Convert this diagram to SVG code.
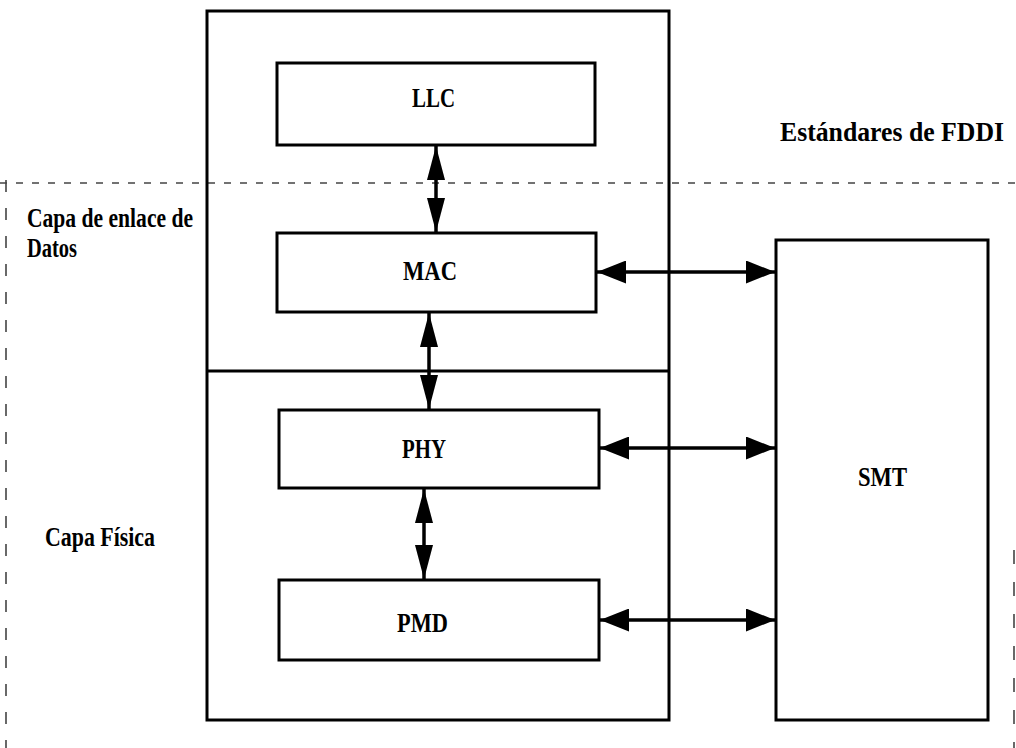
<svg xmlns="http://www.w3.org/2000/svg" width="1016" height="748" viewBox="0 0 1016 748">
  <defs>
    <style>
      .box { fill: none; stroke: #000; stroke-width: 3; }
      .lbl { font-family: "Liberation Serif", "Times New Roman", serif; font-weight: bold; fill: #000; font-size: 28px; }
      .side { font-family: "Liberation Serif", "Times New Roman", serif; font-weight: bold; fill: #000; font-size: 27px; }
      .conn { stroke: #000; stroke-width: 3.5; fill: none; }
      .dash { stroke: #444; stroke-width: 1.6; fill: none; }
    </style>
    <marker id="hh" viewBox="0 0 29 23" refX="29" refY="11.5" markerWidth="29" markerHeight="23" markerUnits="userSpaceOnUse" orient="auto-start-reverse">
      <path d="M0,0 L29,11.5 L0,23 Z" fill="#000"/>
    </marker>
    <marker id="vh" viewBox="0 0 34 18" refX="34" refY="9" markerWidth="34" markerHeight="18" markerUnits="userSpaceOnUse" orient="auto-start-reverse">
      <path d="M0,0 L34,9 L0,18 Z" fill="#000"/>
    </marker>
  </defs>
  <rect width="1016" height="748" fill="#fff"/>

  <g id="guides">
    <line class="dash" x1="0" y1="183" x2="1016" y2="183" stroke-dasharray="7 9"/>
    <line class="dash" x1="6" y1="180" x2="6" y2="748" stroke-dasharray="12 16" stroke-width="2.2"/>
    <line class="dash" x1="1014" y1="550" x2="1014" y2="748" stroke-dasharray="14 18" stroke-width="2.2"/>
  </g>

  <g id="fddi-standards">
    <rect class="box" x="207" y="11" width="462" height="709"/>
    <line class="box" x1="207" y1="371" x2="669" y2="371"/>
    <text class="side" x="780" y="141" textLength="224" lengthAdjust="spacingAndGlyphs">Estándares de FDDI</text>
  </g>

  <g id="layer-labels">
    <text class="side" x="27" y="227" textLength="166" lengthAdjust="spacingAndGlyphs">Capa de enlace de</text>
    <text class="side" x="27" y="257" textLength="50" lengthAdjust="spacingAndGlyphs">Datos</text>
    <text class="side" x="45" y="546" textLength="110" lengthAdjust="spacingAndGlyphs">Capa Física</text>
  </g>

  <g id="llc">
    <rect class="box" x="277" y="63" width="318" height="82"/>
    <text class="lbl" x="412" y="107" textLength="43" lengthAdjust="spacingAndGlyphs">LLC</text>
  </g>
  <g id="mac">
    <rect class="box" x="277" y="233" width="319" height="79"/>
    <text class="lbl" x="403" y="280" textLength="54" lengthAdjust="spacingAndGlyphs">MAC</text>
  </g>
  <g id="phy">
    <rect class="box" x="279" y="410" width="320" height="78"/>
    <text class="lbl" x="402" y="458" textLength="44" lengthAdjust="spacingAndGlyphs">PHY</text>
  </g>
  <g id="pmd">
    <rect class="box" x="279" y="580" width="320" height="80"/>
    <text class="lbl" x="397" y="632" textLength="51" lengthAdjust="spacingAndGlyphs">PMD</text>
  </g>
  <g id="smt">
    <rect class="box" x="776" y="240" width="212" height="480"/>
    <text class="lbl" x="858" y="486" textLength="49" lengthAdjust="spacingAndGlyphs">SMT</text>
  </g>

  <g id="connectors">
    <line class="conn" x1="436" y1="146" x2="436" y2="232" marker-start="url(#vh)" marker-end="url(#vh)"/>
    <line class="conn" x1="429" y1="313" x2="429" y2="409" marker-start="url(#vh)" marker-end="url(#vh)"/>
    <line class="conn" x1="424" y1="489" x2="424" y2="579" marker-start="url(#vh)" marker-end="url(#vh)"/>
    <line class="conn" x1="597" y1="272" x2="775" y2="272" marker-start="url(#hh)" marker-end="url(#hh)"/>
    <line class="conn" x1="600" y1="448" x2="775" y2="448" marker-start="url(#hh)" marker-end="url(#hh)"/>
    <line class="conn" x1="600" y1="620" x2="775" y2="620" marker-start="url(#hh)" marker-end="url(#hh)"/>
  </g>
</svg>
